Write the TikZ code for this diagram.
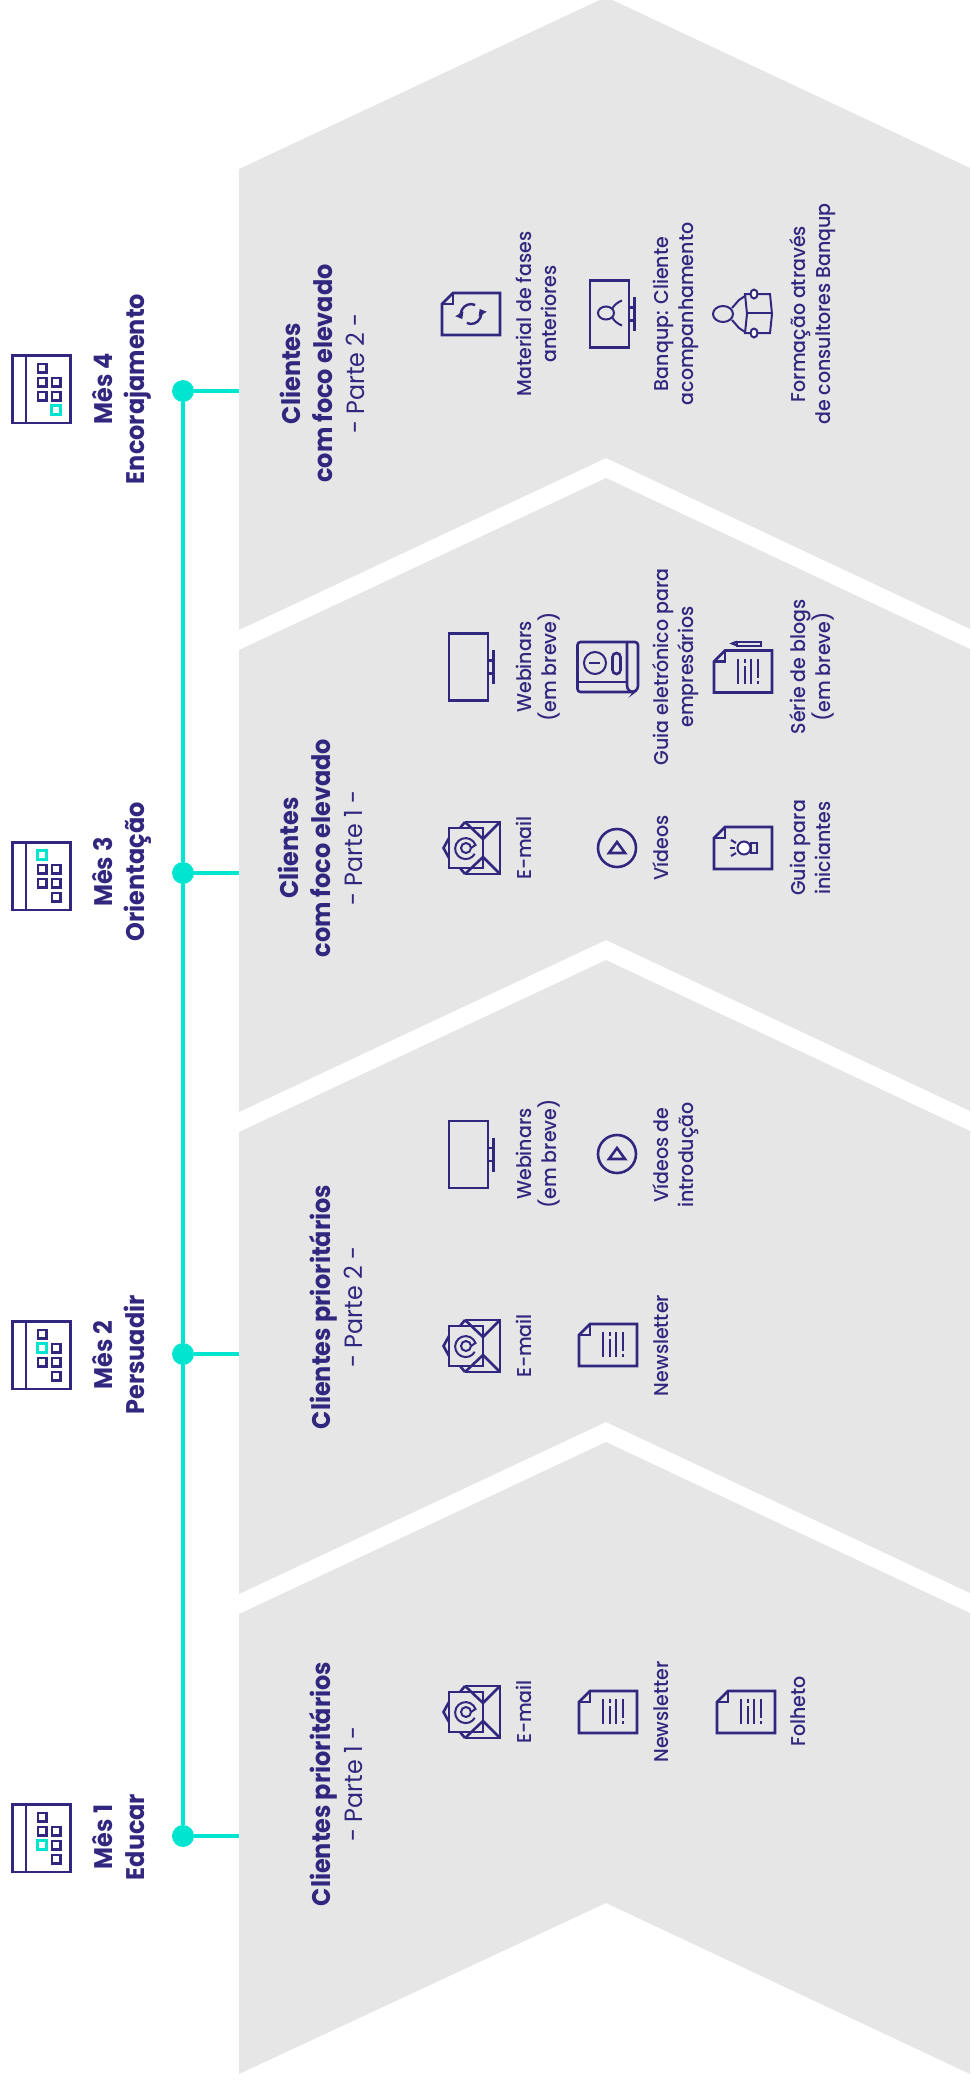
\documentclass[tikz,border=0pt]{standalone}
\usepackage{fontspec}
\setmainfont{Poppins}
\newfontfamily\fbold[FakeStretch=0.94]{Poppins Bold}
\newfontfamily\fbody[FakeStretch=0.95]{Poppins Medium}
\newfontfamily\fpart[FakeStretch=0.95]{Poppins}
\usetikzlibrary{arrows.meta}
\definecolor{navy}{HTML}{32277F}
\definecolor{teal2}{HTML}{00E5D0}
\definecolor{chev}{HTML}{E6E6E6}
\tikzset{
  chevron/.style={fill=chev,draw=none},
  ico/.style={draw=navy,line width=2.6pt,line join=miter},
  icothin/.style={draw=navy,line width=2pt},
  tline/.style={draw=teal2,line width=4pt},
  tdot/.style={circle,fill=teal2,draw=none,minimum size=22pt,inner sep=0pt},
  lab/.style={rotate=90,anchor=base,align=center,inner sep=0pt,text=navy,font=\fontsize{20}{25}\fbody\selectfont},
  month/.style={rotate=90,anchor=base,align=center,inner sep=0pt,text=navy,font=\fontsize{25.5}{32}\fbold\selectfont},
  head/.style={rotate=90,anchor=base,align=center,inner sep=0pt,text=navy,font=\fontsize{25.5}{32}\fbold\selectfont},
}
\newcommand{\partline}[1]{{\fontsize{25}{32}\fpart\selectfont #1}}
\newcommand{\icCal}[3]{% top, hx, hy
  \begin{scope}[shift={(0,#1)}]
    \draw[ico] (12.4,1.4) rectangle (70.7,69);
    \draw[ico] (26,1.4) -- (26,69);
    \foreach \cx/\cy in {42/14,42/28,56/28,42/42,56/42,56/56}
      \draw[ico] (\cx-4.2,\cy-4.2) rectangle (\cx+4.2,\cy+4.2);
    \draw[draw=teal2,line width=2.8pt] (#2-4.2,#3-4.2) rectangle (#2+4.2,#3+4.2);
  \end{scope}}
\newcommand{\icMonitor}[2]{%
  \begin{scope}[shift={(#1,#2)}]
    \draw[ico] (0,-33.5) rectangle (39,33.5);
    \draw[ico] (39,-6.5) rectangle (44,6.5);
    \draw[ico] (44.5,-17) -- (44.5,17);
  \end{scope}}
\newcommand{\icDocShape}[2]{%
  \draw[ico,fill=chev] (#1,#2-10) -- (#1+11,#2-21) -- (#1+58,#2-21) -- (#1+58,#2+21) -- (#1,#2+21) -- cycle;
  \draw[ico] (#1,#2-10) -- (#1+11,#2-10) -- (#1+11,#2-21);}
\newcommand{\icBars}[2]{%
  \begin{scope}[shift={(#1,#2)}]
    \draw[icothin] (24,-13) -- (24,12);
    \draw[icothin] (30.5,-13) -- (30.5,-9);
    \draw[icothin] (30.5,-6) -- (30.5,12);
    \draw[icothin] (37,-13) -- (37,12);
    \draw[icothin] (43.5,-13) -- (43.5,6);
    \draw[icothin] (43.5,9) -- (43.5,12);
  \end{scope}}
\newcommand{\icDoc}[2]{\icDocShape{#1}{#2}\icBars{#1}{#2}}
\newcommand{\icEmail}[1]{%
  \begin{scope}[shift={(0,#1)}]
    \draw[ico] (465,-26) -- (500,-26) -- (500,26) -- (465,26);
    \draw[ico] (465,-26) -- (483,-9) -- (500,-26);
    \draw[ico] (465,26) -- (483,9) -- (500,26);
    \draw[ico] (483,-9) -- (483,9);
    \draw[ico] (449,-20) rectangle (483,20);
    \draw[ico] (449,-10) -- (443.5,0) -- (449,10);
    \draw[ico] (460,-20) -- (465,-26);
    \draw[ico] (460,20) -- (465,26);
    \draw[icothin] (466,0) circle (5);
    \draw[icothin] (471,0) -- (475.5,-3) arc (-20:-330:10.5);
  \end{scope}}
\newcommand{\icVideo}[1]{%
  \begin{scope}[shift={(617,#1)}]
    \draw[ico] (0,0) circle (19);
    \draw[ico] (0,-6) -- (8,5) -- (-8,5) -- cycle;
  \end{scope}}
\newcommand{\icBook}[1]{%
  \begin{scope}[shift={(0,#1)}]
    \draw[ico,rounded corners=3pt] (577.5,-25) -- (638,-25) -- (638,22) -- (634,25) -- (577.5,25) -- cycle;
    \draw[ico] (577.5,15) -- (627,15);
    \draw[ico] (627,-25) -- (627,18) .. controls (627,23) and (630,25) .. (634,25);
    \draw[icothin] (595,-4) circle (11);
    \draw[icothin] (589,-4) -- (600,-4);
    \draw[ico,rounded corners=4pt] (612.5,-14) rectangle (620.5,7);
  \end{scope}}
\newcommand{\icPencil}[1]{%
  \begin{scope}[shift={(0,#1)}]
    \draw[icothin] (737,-2) rectangle (761,2);
    \draw[icothin] (737,-2) -- (732,0) -- (737,2);
  \end{scope}}
\newcommand{\icBulb}[2]{%
  \begin{scope}[shift={(#1,#2)}]
    \draw[ico,line width=2pt] (36.5,-5) rectangle (43,5);
    \draw[draw=navy,line width=2pt,fill=white] (30,0) circle (6.5);
    \draw[icothin] (16,0) -- (21,0);
    \draw[icothin] (17,-8) -- (22,-5);
    \draw[icothin] (17,8) -- (22,5);
  \end{scope}}
\newcommand{\icRefresh}[2]{%
  \begin{scope}[shift={(#1,#2)}]
    \draw[icothin,line width=2.4pt,-{Triangle[length=6pt,width=9pt]}] (4.2,-9) arc (295:150:10);
    \draw[icothin,line width=2.4pt,-{Triangle[length=6pt,width=9pt]}] (-4.2,9) arc (115:-30:10);
  \end{scope}}
\newcommand{\icUser}[2]{%
  \begin{scope}[shift={(#1,#2)}]
    \draw[icothin] (0,0) ellipse (8 and 6.5);
    \draw[icothin] (6,-4) .. controls (8,-8) and (12,-11) .. (16,-12.5);
    \draw[icothin] (6,4) .. controls (8,8) and (12,11) .. (16,12.5);
  \end{scope}}
\newcommand{\icTrainer}[2]{%
  \begin{scope}[shift={(#1,#2)}]
    \draw[icothin] (0,0) ellipse (10 and 8);
    \draw[icothin] (9,-6) -- (16,-14) -- (22,-18);
    \draw[icothin] (9,6) -- (16,14) -- (22,18);
    \draw[icothin] (22,-20) -- (47,-20) -- (49,0) -- (47,19) -- (22,19) -- (24,0) -- cycle;
    \draw[ico] (24,-1) -- (49,-1);
    \draw[draw=navy,line width=2pt,fill=white] (31,-20) ellipse (3.5 and 4.5);
    \draw[draw=navy,line width=2pt,fill=white] (31,19) ellipse (3.5 and 4.5);
  \end{scope}}
\begin{document}
\begin{tikzpicture}[x=1pt,y=-1pt]
\useasboundingbox (0,0) rectangle (970,2083);
% chevrons
\begin{scope}
\clip (0,0) rectangle (970,2083);
\fill[chevron] (239,169) -- (606,-3) -- (970,168) -- (970,629) -- (606,458) -- (239,630) -- cycle;
\fill[chevron] (239,650) -- (606,478) -- (970,649) -- (970,1111) -- (606,940) -- (239,1112) -- cycle;
\fill[chevron] (239,1132) -- (606,960) -- (970,1131) -- (970,1593) -- (606,1422) -- (239,1594) -- cycle;
\fill[chevron] (239,1614) -- (606,1442) -- (970,1613) -- (970,2074) -- (606,1903) -- (239,2074) -- cycle;
\end{scope}
% timeline
\node[tdot] (d4) at (183,391) {};
\node[tdot] (d3) at (183,873) {};
\node[tdot] (d2) at (183,1354) {};
\node[tdot] (d1) at (183,1836) {};
\coordinate (b4) at (239,391);
\coordinate (b3) at (239,873);
\coordinate (b2) at (239,1354);
\coordinate (b1) at (239,1836);
\draw[tline] (d4) -- (d3);
\draw[tline] (d3) -- (d2);
\draw[tline] (d2) -- (d1);
\draw[tline] (d4) -- (b4);
\draw[tline] (d3) -- (b3);
\draw[tline] (d2) -- (b2);
\draw[tline] (d1) -- (b1);
% calendars
\icCal{354}{56}{56}
\icCal{841}{42}{14}
\icCal{1320}{42}{28}
\icCal{1803}{42}{42}
% months
\node[month] (m4) at (144,389) {Mês 4\\Encorajamento};
\node[month] (m3) at (144,872) {Mês 3\\Orientação};
\node[month] (m2) at (144,1355) {Mês 2\\Persuadir};
\node[month] (m1) at (144,1837) {Mês 1\\Educar};
% headings
\node[head] (h4) at (364,373.5) {Clientes\\com foco elevado\\\partline{- Parte 2 -}};
\node[head] (h3) at (362,848) {Clientes\\com foco elevado\\\partline{- Parte 1 -}};
\node[head] (h2) at (362,1307) {Clientes prioritários\\\partline{- Parte 2 -}};
\node[head] (h1) at (362,1784) {Clientes prioritários\\\partline{- Parte 1 -}};
% chevron 4 items
\icDocShape{442}{314}\icRefresh{471}{314}
\node[lab] (t41) at (556,314) {Material de fases\\anteriores};
\icMonitor{590}{314}\icUser{606}{313}
\node[lab] (t42) at (693,314) {Banqup: Cliente\\acompanhamento};
\icTrainer{723}{314}
\node[lab] (t43) at (830,314) {Formação através\\de consultores Banqup};
% chevron 3 items
\icMonitor{449}{667}
\node[lab] (t31) at (556,667) {Webinars\\(em breve)};
\icEmail{848}
\node[lab] (t32) at (531,848) {E-mail};
\icBook{667}
\node[lab] (t33) at (693,667) {Guia eletrónico para\\empresários};
\icVideo{848}
\node[lab] (t34) at (668,848) {Vídeos};
\icPencil{643.5}\icDoc{714}{671.5}
\node[lab] (t35) at (830,667) {Série de blogs\\(em breve)};
\icDocShape{714}{848}\icBulb{714}{848}
\node[lab] (t36) at (830,848) {Guia para\\iniciantes};
% chevron 2 items
\icMonitor{449}{1154.5}
\node[lab] (t21) at (556,1154) {Webinars\\(em breve)};
\icEmail{1346}
\node[lab] (t22) at (531,1346) {E-mail};
\icVideo{1154}
\node[lab] (t23) at (693,1155) {Vídeos de\\introdução};
\icDoc{579}{1345}
\node[lab] (t24) at (668,1345.5) {Newsletter};
% chevron 1 items
\icEmail{1712}
\node[lab] (t11) at (531,1712) {E-mail};
\icDoc{579}{1712}
\node[lab] (t12) at (668,1712) {Newsletter};
\icDoc{717}{1712}
\node[lab] (t13) at (805,1711.5) {Folheto};
\end{tikzpicture}
\end{document}
